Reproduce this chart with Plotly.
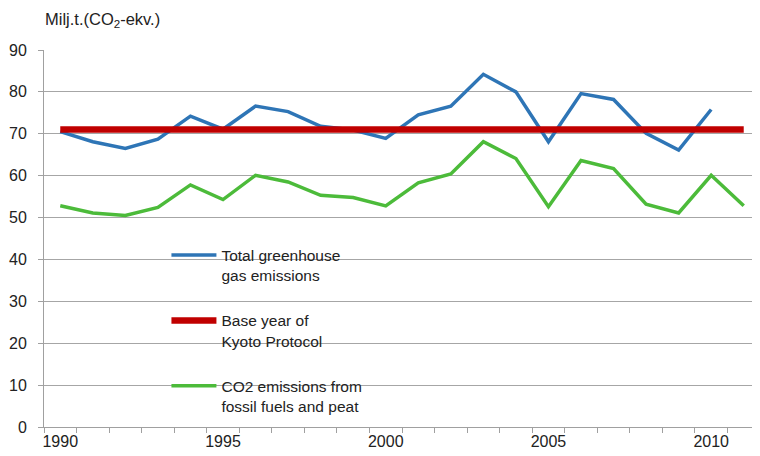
import plotly.graph_objects as go

years = list(range(1990, 2012))
total_ghg = [70.5, 68.1, 66.5, 68.7, 74.2, 71.1, 76.6, 75.3, 71.8, 70.9, 68.9,
             74.5, 76.6, 84.2, 80.0, 68.1, 79.6, 78.2, 70.1, 66.1, 75.8, None]
kyoto_base = [71.0] * 22
co2_fossil = [52.8, 51.1, 50.5, 52.4, 57.8, 54.3, 60.1, 58.5, 55.3, 54.8, 52.8,
              58.3, 60.4, 68.1, 64.1, 52.6, 63.6, 61.7, 53.2, 51.1, 60.1, 52.8]
tick_years = [1990, 1995, 2000, 2005, 2010]
y_ticks = list(range(0, 100, 10))

names = ["Total greenhouse<br>gas emissions",
         "Base year of<br>Kyoto Protocol",
         "CO2 emissions from<br>fossil fuels and peat"]
colors = ["#2e75b6", "#c00000", "#4cbb3a"]
widths = [3.5, 6.5, 3.5]
series = [total_ghg, kyoto_base, co2_fossil]

fig = go.Figure()
for i, (nm, col, w, s) in enumerate(zip(names, colors, widths, series)):
    fig.add_trace(go.Scatter(x=years, y=s, mode="lines", name=nm,
                             legendgroup=f"g{i}",
                             line=dict(color=col, width=w)))

font = dict(family="Liberation Sans, Arial, sans-serif", size=16, color="#222222")
lfont = dict(family="Liberation Sans, Arial, sans-serif", size=15.5, color="#222222")
tfont = dict(family="Liberation Sans, Arial, sans-serif", size=16.5, color="#222222")

fig.update_layout(
    width=752, height=448,
    margin=dict(l=36, r=0, t=42, b=29),
    paper_bgcolor="white", plot_bgcolor="white",
    font=font,
    showlegend=True,
    legend=dict(x=0.171, y=0.5, xanchor="left", yanchor="top",
                bgcolor="rgba(0,0,0,0)", valign="top",
                tracegroupgap=22, itemwidth=45,
                font=lfont),
    annotations=[dict(text="Milj.t.(CO<sub>2</sub>-ekv.)", xref="paper", yref="paper",
                      x=-0.002, y=1.08, xanchor="left", yanchor="middle",
                      showarrow=False, font=tfont)],
)
fig.update_xaxes(range=[1989.5, 2011.5], tickmode="array", tickvals=tick_years,
                 ticktext=[str(t) for t in tick_years], ticks="",
                 showgrid=False, showline=True, linecolor="#a0a0a0", linewidth=1,
                 minor=dict(tickmode="linear", tick0=1989.5, dtick=1, ticks="outside",
                            ticklen=5, tickcolor="#a0a0a0", showgrid=False),
                 zeroline=False, tickfont=font)
fig.update_yaxes(range=[0, 90], tickmode="array", tickvals=y_ticks,
                 ticks="outside", ticklen=5, tickcolor="#a0a0a0",
                 showgrid=True, gridcolor="#a6a6a6", gridwidth=1,
                 showline=True, linecolor="#a0a0a0", linewidth=1,
                 zeroline=False, tickfont=font, ticklabelstandoff=8)

fig.write_html("out.html")
